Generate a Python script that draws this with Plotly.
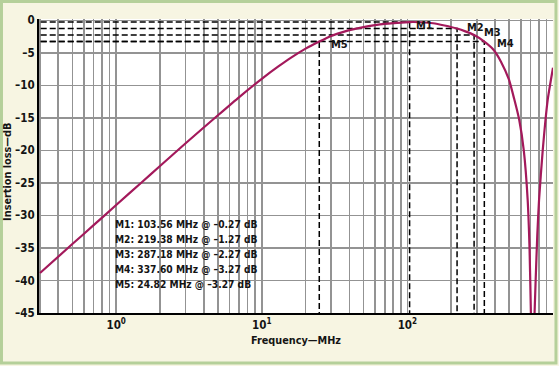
import math
import plotly.graph_objects as go

# ---------------- data ----------------
freq_mhz = [0.3, 0.5, 0.7, 1, 1.5, 2, 3, 5, 7, 10, 13, 16, 20, 24.82, 30, 35, 40, 50,
            60, 70, 85, 103.56, 125, 150, 180, 219.38, 250, 287.18, 337.6, 389, 440, 498,
            540, 586, 630, 670, 690, 705, 720, 740, 760, 780, 802, 850, 920, 1000]
loss_db = [-38.85, -34.4, -31.5, -28.4, -24.9, -22.4, -18.9, -14.6, -11.8, -9.0, -7.1, -5.7,
           -4.36, -3.27, -2.4, -1.9, -1.52, -1.04, -0.75, -0.56, -0.40, -0.27, -0.30, -0.45,
           -0.8, -1.27, -1.7, -2.27, -3.27, -4.5, -6.4, -9.1, -12.0, -15.3, -20.0, -27.6,
           -35.0, -45.0, -58.0, -48.0, -40.0, -33.0, -27.6, -20.0, -12.2, -7.3]

marker_names = ["M1", "M2", "M3", "M4", "M5"]
marker_freq = [103.56, 219.38, 287.18, 337.60, 24.82]
marker_db = [-0.27, -1.27, -2.27, -3.27, -3.27]

y_ticks = [0, -5, -10, -15, -20, -25, -30, -35, -40, -45]
decades = [-1, 0, 1, 2, 3]

# ---------------- style ----------------
FONT = "DejaVu Sans Condensed, Liberation Sans Narrow, sans-serif"
TXT = "#141414"
CURVE = "#a3195b"
GRID = "#939393"
X_MIN_LOG, X_MAX_LOG = -0.53, 3.0
Y_MIN, Y_MAX = -45, 0.2
label_shift = {"M1": (4, -3), "M2": (8, 1.5), "M3": (8, 3), "M4": (11, -2), "M5": (10, -2.5)}

fig = go.Figure()

# marker dashed guide lines
for name, f, d in zip(marker_names, marker_freq, marker_db):
    fig.add_trace(go.Scatter(
        x=[10 ** (X_MIN_LOG - 0.05), f, f], y=[d, d, Y_MIN - 1],
        mode="lines", line=dict(color="black", width=1.5, dash="6px,3px"),
        hoverinfo="skip", showlegend=False))

# insertion loss curve
fig.add_trace(go.Scatter(x=freq_mhz, y=loss_db, mode="lines",
                         line=dict(color=CURVE, width=2.2, shape="spline", smoothing=0.5),
                         hoverinfo="skip", showlegend=False))

# x ticks: every 1..9 x decade, labelled at decades
tickvals, ticktext = [], []
for d in decades:
    for k in range(1, 10):
        v = k * 10 ** d
        if 10 ** X_MIN_LOG <= v <= 10 ** X_MAX_LOG * 1.0001:
            tickvals.append(v)
            ticktext.append(f"10<sup>{d}</sup>" if k == 1 else "")

annotations = []
for name, f, d in zip(marker_names, marker_freq, marker_db):
    xs, ys = label_shift[name]
    annotations.append(dict(x=math.log10(f), y=d, xref="x", yref="y", text=name,
                            showarrow=False, xanchor="left", yanchor="middle",
                            xshift=xs, yshift=ys,
                            font=dict(family=FONT, size=11, color=TXT, weight="bold")))

# marker readout text block
for i, (name, f, d) in enumerate(zip(marker_names, marker_freq, marker_db)):
    annotations.append(dict(x=0, y=-31.4 - 2.3 * i, xref="x", yref="y",
                            text=f"{name}: {f:.2f} MHz @ \u2013{abs(d):.2f} dB",
                            showarrow=False, xanchor="left", yanchor="middle", xshift=-3,
                            font=dict(family=FONT, size=10.2, color=TXT, weight="bold")))

# axis titles
annotations.append(dict(x=0.5, y=-0.095, xref="paper", yref="paper", text="Frequency\u2014MHz",
                        showarrow=False, xanchor="center", yanchor="middle",
                        font=dict(family=FONT, size=10.8, color=TXT, weight="bold")))
annotations.append(dict(x=-0.0603, y=0.48, xref="paper", yref="paper",
                        text="Insertion loss\u2014dB", textangle=-90,
                        showarrow=False, xanchor="center", yanchor="middle",
                        font=dict(family=FONT, size=10.8, color=TXT, weight="bold")))

fig.update_layout(
    width=559, height=366,
    margin=dict(l=39, r=6, t=19, b=53, autoexpand=False),
    paper_bgcolor="#f7f5e2", plot_bgcolor="white",
    font=dict(family=FONT, size=12, color=TXT),
    hovermode=False,
    annotations=annotations,
    shapes=[dict(type="rect", xref="paper", yref="paper",
                 x0=-0.073, x1=1.0058, y0=-0.1700, y1=1.0595,
                 line=dict(color="#b5d09a", width=3), fillcolor="rgba(0,0,0,0)",
                 layer="above")],
    xaxis=dict(type="log", range=[X_MIN_LOG, X_MAX_LOG], tickvals=tickvals, ticktext=ticktext,
               tickangle=0,
               showgrid=True, gridcolor=GRID, gridwidth=1.6, showline=True, linecolor="black",
               linewidth=2, ticks="", zeroline=False, automargin=False,
               tickfont=dict(size=11.5, color=TXT, weight="bold")),
    yaxis=dict(range=[Y_MIN, Y_MAX], tickvals=y_ticks,
               ticktext=[("\u2013" + str(abs(v))) if v < 0 else str(v) for v in y_ticks],
               showgrid=True, gridcolor=GRID, gridwidth=1.6, showline=True, linecolor="black",
               linewidth=2, ticks="", zeroline=False, automargin=False,
               tickfont=dict(size=11.5, color=TXT, weight="bold")),
)

fig.write_html("out.html", config={"displayModeBar": False, "staticPlot": True},
               post_script="document.body.style.margin='0px';document.body.style.padding='0px';")
